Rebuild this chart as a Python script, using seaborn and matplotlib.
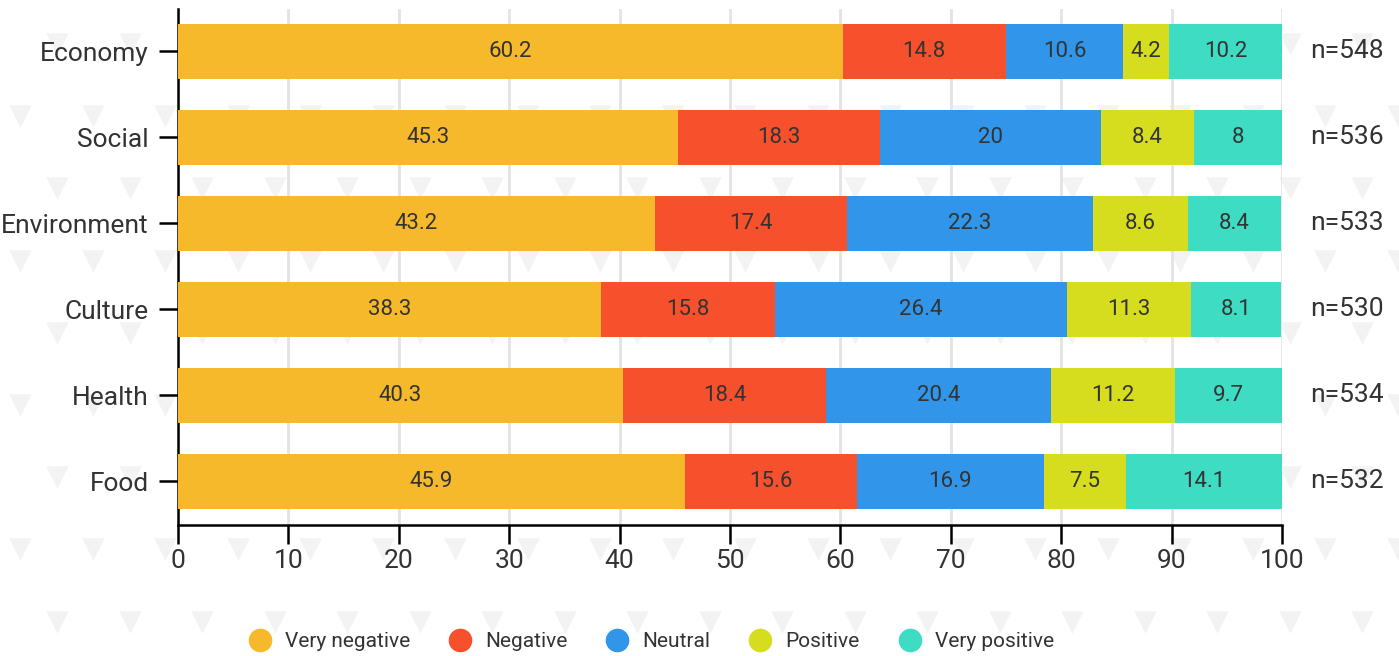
import numpy as np
import pandas as pd
import matplotlib.pyplot as plt
import seaborn as sns
from matplotlib.lines import Line2D

# Chart data
CATEGORIES = ["Economy", "Social", "Environment", "Culture", "Health", "Food"]
SERIES = ["Very negative", "Negative", "Neutral", "Positive", "Very positive"]
VERY_NEGATIVE = [60.2, 45.3, 43.2, 38.3, 40.3, 45.9]
NEGATIVE = [14.8, 18.3, 17.4, 15.8, 18.4, 15.6]
NEUTRAL = [10.6, 20, 22.3, 26.4, 20.4, 16.9]
POSITIVE = [4.2, 8.4, 8.6, 11.3, 11.2, 7.5]
VERY_POSITIVE = [10.2, 8, 8.4, 8.1, 9.7, 14.1]
N_COUNTS = [548, 536, 533, 530, 534, 532]
X_TICKS = [0, 10, 20, 30, 40, 50, 60, 70, 80, 90, 100]

COLORS = ["#F6B92B", "#F6502C", "#3196E9", "#D6DD1F", "#3DDCC3"]
TEXT = "#333333"

sns.set_theme(style="white")
plt.rcParams["font.family"] = ["Roboto", "DejaVu Sans"]

df = pd.DataFrame({"category": CATEGORIES,
                   SERIES[0]: VERY_NEGATIVE, SERIES[1]: NEGATIVE,
                   SERIES[2]: NEUTRAL, SERIES[3]: POSITIVE,
                   SERIES[4]: VERY_POSITIVE})
cum = df[SERIES].cumsum(axis=1)

fig = plt.figure(figsize=(13.99, 6.56), dpi=100)

# faint triangle watermark in the background
bg = fig.add_axes([0, 0, 1, 1], zorder=-5)
bg.set_xlim(0, 1399)
bg.set_ylim(656, 0)
bg.axis("off")
for i, yy in enumerate(np.arange(44, 660, 72.2)):
    off = 57 if i % 2 == 0 else 20
    xx = np.arange(off, 1420, 72.5)
    bg.scatter(xx, np.full_like(xx, yy), marker="v", s=260,
               color="#f3f3f3", linewidths=0)

ax = fig.add_axes([178 / 1399, 1 - 525 / 656, 1104 / 1399, 516 / 656])
ax.patch.set_alpha(0)

# stacked bars: draw cumulative totals from widest to narrowest
for s, col in reversed(list(zip(SERIES, COLORS))):
    sns.barplot(x=cum[s], y=df["category"], orient="h", color=col,
                width=0.64, saturation=1, linewidth=0, ax=ax, zorder=3)

for s in SERIES:
    left = cum[s] - df[s]
    for i, (l, v) in enumerate(zip(left, df[s])):
        ax.text(l + v / 2, i, f"{v:g}", ha="center", va="center",
                fontsize=16, color=TEXT, zorder=5)

for i, n in enumerate(N_COUNTS):
    ax.text(1.059, i, f"n={n}", transform=ax.get_yaxis_transform(),
            ha="center", va="center", fontsize=19, color=TEXT)

ax.set_xlim(0, 100)
ax.set_ylim(5.51, -0.49)
ax.set_xticks(X_TICKS)
ax.set_xlabel("")
ax.set_ylabel("")
ax.grid(axis="x", color="#e3e3e3", linewidth=2, zorder=0)
ax.set_axisbelow(True)
for side in ["top", "right"]:
    ax.spines[side].set_visible(False)
for side in ["left", "bottom"]:
    ax.spines[side].set_color("black")
    ax.spines[side].set_linewidth(1.8)
ax.tick_params(axis="both", colors="black", labelcolor=TEXT, labelsize=19,
               length=14, width=1.8, direction="out", left=True, bottom=True)
ax.tick_params(axis="y", pad=7)
ax.tick_params(axis="x", pad=3)

handles = [Line2D([], [], marker="o", linestyle="", markersize=17,
                  markerfacecolor=c, markeredgewidth=0) for c in COLORS]
fig.legend(handles, SERIES, loc="center", bbox_to_anchor=(0.462, 0.022),
           ncol=5, frameon=False, fontsize=15, handletextpad=0.2,
           columnspacing=1.4, labelcolor=TEXT)

fig.savefig("out.png", dpi=100)
